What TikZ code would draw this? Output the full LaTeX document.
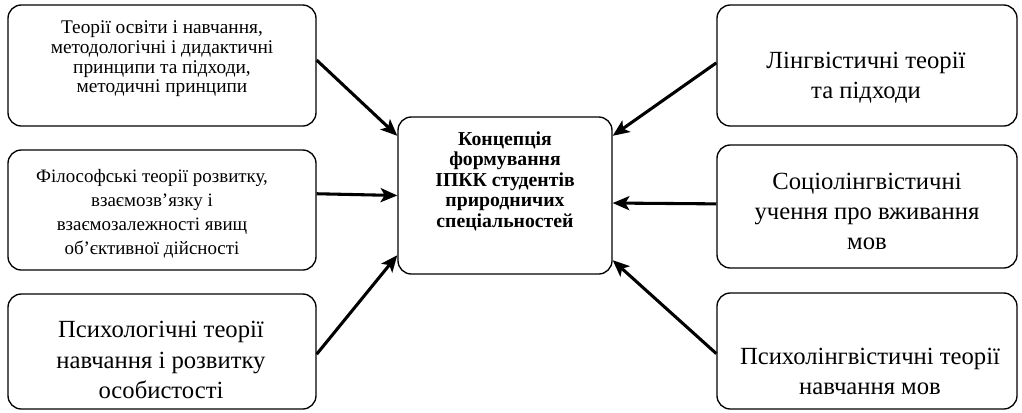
\documentclass[tikz,border=0pt]{standalone}
\usepackage{fontspec}
\setmainfont{Liberation Serif}
\usetikzlibrary{arrows.meta}

\begin{document}
\begin{tikzpicture}[x=0.75pt,y=0.75pt,yscale=-1,xscale=1,
		theorybox/.style={draw,line width=1pt,rounded corners=10pt,inner sep=0pt},
		smalltext/.style={inner sep=0.75pt,align=center,font=\fontsize{14.5}{14.8}\selectfont},
		midtext/.style={inner sep=0.75pt,align=center,font=\fontsize{14.2}{18}\selectfont},
		bigtext/.style={inner sep=0.75pt,align=center,font=\fontsize{18.5}{22.5}\selectfont},
		feed/.style={line width=2.3pt,-{Stealth[length=12.5pt,width=10.5pt,inset=3pt]}}]
		\useasboundingbox (0,0) rectangle (1022,412);
		% boxes on the left
		\draw (162,65.5) node [theorybox,minimum width=231pt,minimum height=90.75pt] (edu) {};
		\draw (162,210) node [theorybox,minimum width=231pt,minimum height=90pt] (philo) {};
		\draw (162,351.5) node [theorybox,minimum width=231pt,minimum height=86.25pt] (psycho) {};
		% boxes on the right
		\draw (867,65.5) node [theorybox,minimum width=225pt,minimum height=90.75pt] (ling) {};
		\draw (867,206.5) node [theorybox,minimum width=225pt,minimum height=92.25pt] (socio) {};
		\draw (867,351) node [theorybox,minimum width=225pt,minimum height=87pt] (psycholing) {};
		% concept in the middle
		\draw (505,195.5) node [theorybox,minimum width=160.5pt,minimum height=117.75pt] (concept) {};
		\draw (505,181) node [inner sep=0.75pt,align=center,font=\bfseries\fontsize{14.8}{15.4}\selectfont] (concepttext) {Концепція\\формування\\ІПКК студентів\\природничих\\спеціальностей};
		% texts
		\draw (162,59) node [smalltext] (edutext) {Теорії освіти і навчання,\\методологічні і дидактичні\\принципи та підходи,\\методичні принципи};
		\draw (152,214) node [midtext] (philotext) {Філософські теорії розвитку,\\взаємозв’язку і\\взаємозалежності явищ\\об’єктивної дійсності};
		\draw (161,360) node [bigtext,font=\fontsize{18.5}{23}\selectfont] (psychotext) {Психологічні теорії\\навчання і розвитку\\особистості};
		\draw (866,78) node [bigtext] (lingtext) {Лінгвістичні теорії\\та підходи};
		\draw (867,211) node [bigtext] (sociotext) {Соціолінгвістичні\\учення про вживання\\мов};
		\draw (870,371) node [bigtext] (psycholingtext) {Психолінгвістичні теорії\\навчання мов};
		% arrows
		\draw [feed] (edu.2) -- (concept.151);
		\draw [feed] (philo.6) -- (concept.west);
		\draw [feed] (psycho.-1) -- (concept.209);
		\draw [feed] (ling.179) -- (concept.29);
		\draw [feed] (socio.179) -- (concept.-4);
		\draw [feed] (psycholing.181) -- (concept.-31);
	\end{tikzpicture}
\end{document}
